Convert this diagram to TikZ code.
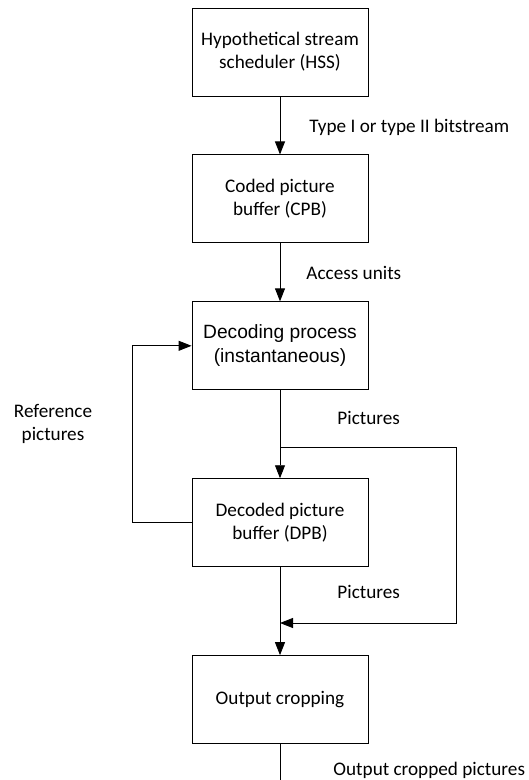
\documentclass[tikz,border=0pt]{standalone}
\usepackage{fontspec}
\setmainfont{Carlito}
\newfontfamily\arialfont{Liberation Sans}
\usetikzlibrary{positioning, arrows.meta}

\begin{document}
\begin{tikzpicture}[x=1pt,y=-1pt,node distance={58pt},line width=0.9pt,
	box/.style = {draw, rectangle, minimum width=176pt, minimum height=88pt, inner sep=0pt, align=center, font=\fontsize{19.2}{23}\selectfont},
	lbl/.style = {inner sep=0pt, align=center, font=\fontsize{19.2}{23}\selectfont},
	arr/.style = {-{Triangle[length=13pt,width=10pt]}}]
		\useasboundingbox (0,0) rectangle (529,780);
		\node[box] (hss) at (280,52) {Hypothetical stream\\scheduler (HSS)};
		\node[box] (cpb) [below=of hss] {Coded picture\\buffer (CPB)};
		\node[box] (dec) [below=of cpb, font=\arialfont\fontsize{19.2}{24}\selectfont] {Decoding process\\(instantaneous)};
		\node[box] (dpb) [below=88pt of dec] {Decoded picture\\buffer (DPB)};
		\node[box] (out) [below=88pt of dpb] {Output cropping};
		\coordinate (split) at (280,447);
		\coordinate (join) at (280,623);
		\coordinate (bottom) at (280,780);
		\node[lbl, anchor=west] (l1) at (309,127) {Type I or type II bitstream};
		\node[lbl, anchor=west] (l2) at (306,273) {Access units};
		\node[lbl, anchor=west] (l3) at (337,418) {Pictures};
		\node[lbl, anchor=west] (l4) at (337,592) {Pictures};
		\node[lbl, anchor=west] (l5) at (333,770) {Output cropped pictures};
		\node[lbl] (l6) at (53,424) {Reference\\pictures};
		\draw[arr] (hss) to (cpb);
		\draw[arr] (cpb) to (dec);
		\draw[arr] (dec) to (dpb);
		\draw[arr] (dpb) to (out);
		\draw (out) to (bottom);
		\draw[arr] (split) -- (456,447) -- (456,623) -- (join);
		\draw[arr] (dpb.west) -- ++(-59,0) |- (dec.west);
	\end{tikzpicture}
\end{document}
